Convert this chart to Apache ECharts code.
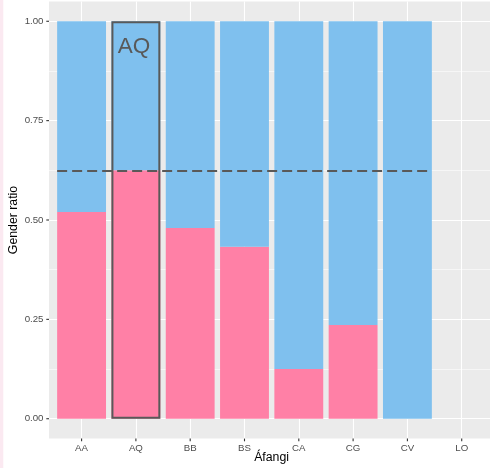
<!DOCTYPE html>
<html>
<head>
<meta charset="utf-8">
<script src="https://cdn.jsdelivr.net/npm/echarts@6/dist/echarts.min.js"></script>
<style>
html,body{margin:0;padding:0;background:#fff;}
#c{width:490px;height:468px;}
</style>
</head>
<body>
<div id="c"></div>
<script>
const categories = ['AA', 'AQ', 'BB', 'BS', 'CA', 'CG', 'CV', 'LO'];
const female = [0.52, 0.625, 0.48, 0.433, 0.125, 0.236, 0, null];
const male = [0.48, 0.375, 0.52, 0.567, 0.875, 0.764, 1, null];
const highlight = 'AQ';
const highlightValue = 1;
const threshold = 0.625;
const yTicks = [0, 0.25, 0.5, 0.75, 1];
const yMinorTicks = [0.125, 0.375, 0.625, 0.875];
const yLabels = ['0.00', '0.25', '0.50', '0.75', '1.00'];
const xTitle = 'Áfangi';
const yTitle = 'Gender ratio';

const FONT = 'Liberation Sans, Arial, Helvetica, sans-serif';
const PINK = '#ff80a6';
const BLUE = '#7fc0ee';
const X_MIN = -0.6, X_MAX = 7.6, Y_MIN = -0.05, Y_MAX = 1.05;
const xIdx = categories.map((c, i) => i);
const hiIdx = categories.indexOf(highlight);
const barData = categories.map((c, i) => [i, female[i], male[i]]);
const tickData = xIdx.map(i => [i, Y_MIN, 0]).concat(yTicks.map(t => [X_MIN, t, 1]));

function renderStack(params, api) {
  const i = api.value(0);
  const f = api.value(1);
  const m = api.value(2);
  if (isNaN(f) || isNaN(m)) return null;
  const w = api.size([0.9, 0])[0];
  const p0 = api.coord([i, 0]);
  const p1 = api.coord([i, f]);
  const p2 = api.coord([i, f + m]);
  const x = p0[0] - w / 2;
  const children = [];
  if (f > 0) children.push({type: 'rect', shape: {x: x, y: p1[1], width: w, height: p0[1] - p1[1]}, style: {fill: PINK}});
  if (m > 0) children.push({type: 'rect', shape: {x: x, y: p2[1], width: w, height: p1[1] - p2[1]}, style: {fill: BLUE}});
  return {type: 'group', children: children};
}

function renderTick(params, api) {
  const p = api.coord([api.value(0), api.value(1)]);
  const isY = api.value(2) === 1;
  const shape = isY ? {x1: p[0] - 2.7, y1: p[1], x2: p[0], y2: p[1]} : {x1: p[0], y1: p[1], x2: p[0], y2: p[1] + 2.7};
  return {type: 'line', shape: shape, style: {stroke: '#333333', lineWidth: 1.1}};
}

const chart = echarts.init(document.getElementById('c'), null, {renderer: 'canvas'});
chart.setOption({
  animation: false,
  backgroundColor: '#ffffff',
  graphic: [
    {type: 'rect', left: 0, top: 0, shape: {width: 3.3, height: 468}, style: {fill: '#fbe9f1'}, z: -10},
    {type: 'text', x: 14, y: 220, rotation: Math.PI / 2, style: {text: yTitle, fill: '#000', font: '12.3px ' + FONT, align: 'center', verticalAlign: 'middle'}},
    {type: 'text', x: 271.6, y: 458, style: {text: xTitle, fill: '#000', font: '12.3px ' + FONT, align: 'center', verticalAlign: 'middle'}}
  ],
  grid: {left: 49, right: -4.3, top: 1.4, bottom: 29.4, show: true, backgroundColor: '#ebebeb', borderWidth: 0, outerBoundsMode: 'none', containLabel: false},
  xAxis: {
    type: 'value', min: X_MIN, max: X_MAX,
    axisLine: {show: false, onZero: false},
    axisTick: {show: false, customValues: xIdx},
    axisLabel: {customValues: xIdx, formatter: v => categories[Math.round(v)], color: '#4d4d4d', fontSize: 9.7, fontFamily: FONT, margin: 4.5},
    splitLine: {show: true, lineStyle: {color: '#ffffff', width: 1.1}}
  },
  yAxis: [{
    type: 'value', min: Y_MIN, max: Y_MAX,
    axisLine: {show: false, onZero: false},
    axisTick: {show: false, customValues: yTicks},
    axisLabel: {customValues: yTicks, formatter: v => yLabels[yTicks.indexOf(Math.round(v * 100) / 100)], color: '#4d4d4d', fontSize: 9.7, fontFamily: FONT, margin: 5.5},
    splitLine: {show: true, lineStyle: {color: '#ffffff', width: 1.1}}
  }, {
    type: 'value', min: Y_MIN, max: Y_MAX, position: 'right',
    axisLine: {show: false, onZero: false},
    axisTick: {show: false, customValues: yMinorTicks},
    axisLabel: {show: false, customValues: yMinorTicks},
    splitLine: {show: true, lineStyle: {color: '#ffffff', width: 0.55}}
  }],
  series: [{
    type: 'custom', name: 'ratio', z: 2,
    renderItem: renderStack,
    encode: {x: 0, y: [1, 2]},
    data: barData,
    markLine: {
      silent: true, symbol: 'none', label: {show: false},
      lineStyle: {color: '#595959', width: 2, type: [10, 5]},
      data: [[{coord: [-0.45, threshold]}, {coord: [6.45, threshold]}]]
    }
  }, {
    type: 'bar', name: 'highlight', barWidth: 48.9, z: 3,
    data: [[hiIdx, highlightValue]],
    itemStyle: {color: 'rgba(0,0,0,0)', borderColor: '#595959', borderWidth: 2},
    label: {show: true, position: 'insideTop', distance: 11, offset: [-2, 3], formatter: highlight, color: '#595959', fontSize: 22.5, fontFamily: FONT}
  }, {
    type: 'custom', name: 'ticks', z: 4, clip: false, silent: true,
    renderItem: renderTick,
    encode: {x: 0, y: 1},
    data: tickData
  }]
});
</script>
</body>
</html>
